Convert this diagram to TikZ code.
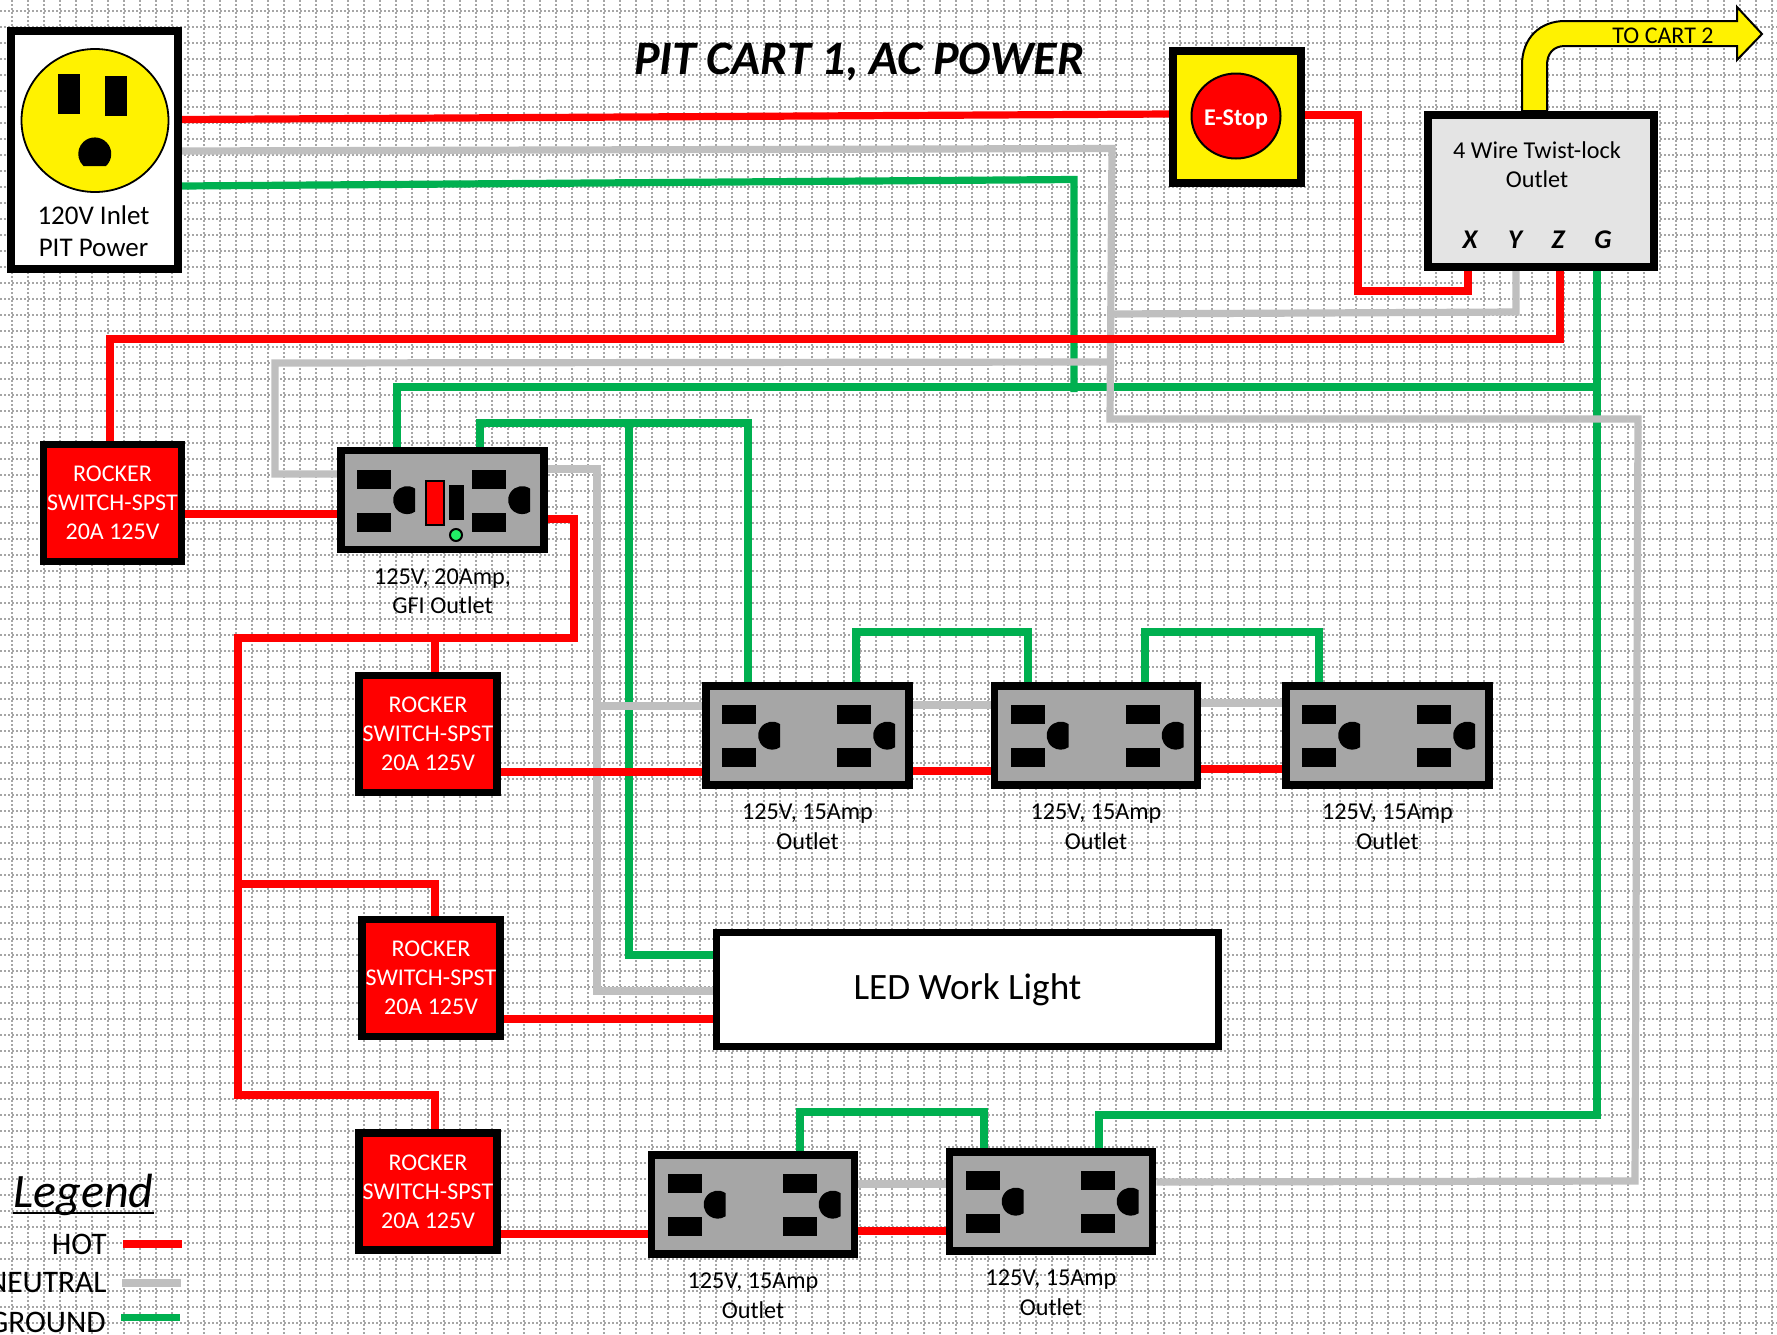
\documentclass[tikz,border=0pt]{standalone}
\usepackage{fontspec}
\setmainfont{Carlito}
\usetikzlibrary{positioning,backgrounds}
\definecolor{hotred}{HTML}{FF0000}
\definecolor{neutralgray}{HTML}{BFBFBF}
\definecolor{groundgreen}{HTML}{00B050}
\definecolor{platefill}{HTML}{A6A6A6}
\definecolor{gridgray}{HTML}{A6A6A6}
\definecolor{twistfill}{HTML}{E4E4E4}
\definecolor{leddot}{HTML}{22EE66}
\tikzset{
    gridline/.style={gridgray,line width=.9pt,dash pattern=on 1pt off 1pt},
    wire/.style={line width=3.6pt,line join=miter},
    hot/.style={wire,hotred},
    neutral/.style={wire,neutralgray},
    ground/.style={wire,groundgreen},
    box/.style={draw=black,line width=3.8pt,inner sep=0pt,align=center},
    rocker/.style={box,fill=hotred,text=white,minimum width=69pt,minimum height=58.5pt,font=\fontsize{12}{14.4}\selectfont},
    outlet/.style={box,fill=platefill,minimum width=101.5pt,minimum height=49.5pt},
    caption/.style={align=center,inner sep=0pt,font=\fontsize{12.1}{14.7}\selectfont},
    letter/.style={inner sep=0pt,font=\fontsize{13.5}{15}\selectfont\bfseries\itshape},
    legendtext/.style={inner sep=0pt,anchor=east,font=\fontsize{15.7}{18}\selectfont},
}
\newcommand{\slots}[2]{%
    \begin{scope}[shift={(#1.north west)}]
        \fill (#2+20,23) rectangle (#2+54,42);
        \fill (#2+20,66) rectangle (#2+54,85);
        \fill (#2+78,42) arc[start angle=-55,end angle=-305,radius=14] -- cycle;
    \end{scope}}
\newcommand{\faceplate}[1]{\slots{#1}{0}\slots{#1}{115}}
\begin{document}
\begin{tikzpicture}[x=.5pt,y=-.5pt]
    \useasboundingbox (0,0) rectangle (1777,1334);

    \node[box,fill=white,minimum width=83.5pt,minimum height=119pt] (inlet) at (94.5,150) {};
    \node[box,fill=yellow,minimum width=64pt,minimum height=66pt] (estop) at (1237,117) {};
    \node[box,fill=twistfill,minimum width=113pt,minimum height=76pt] (twist) at (1541,191) {};
    \node[rocker] (r_1) at (112.5,503) {ROCKER\\SWITCH-SPST\\20A 125V};
    \node[rocker] (r_2) at (428,734) {ROCKER\\SWITCH-SPST\\20A 125V};
    \node[rocker] (r_3) at (431,978) {ROCKER\\SWITCH-SPST\\20A 125V};
    \node[rocker] (r_4) at (428,1191.5) {ROCKER\\SWITCH-SPST\\20A 125V};
    \node[outlet] (gfi) at (442.5,500) {};
    \node[outlet] (o_1) at (807.5,735.5) {};
    \node[outlet] (o_2) at (1096,735.5) {};
    \node[outlet] (o_3) at (1387.5,735.5) {};
    \node[outlet] (o_4) at (753,1204.5) {};
    \node[outlet] (o_5) at (1051,1201.5) {};
    \node[box,fill=white,minimum width=251pt,minimum height=57pt,font=\fontsize{18.6}{20}\selectfont] (led) at (967.5,989.5) {\raisebox{-1.2pt}{LED Work Light}};

    \begin{scope}[on background layer]
    \fill[white] (0,0) rectangle (1777,1334);
    \foreach \gx in {12,28,...,1777} {\draw[gridline] (\gx,0) -- (\gx,1334);}
    \foreach \gy in {11,27,...,1334} {\draw[gridline] (0,\gy) -- (1777,\gy);}

    \draw[ground] (inlet.east |- 0,186) -- (1074,179.5) -- (1074,392);
    \draw[ground] (gfi.north -| 397,0) -- (397,387) -- (1597,387);
    \draw[ground] (twist.south -| 1597,0) -- (1597,1115) -- (1099,1115) -- (o_5.north -| 1099,0);
    \draw[ground] (gfi.north -| 480,0) -- (480,423) -- (748,423) -- (o_1.north -| 748,0);
    \draw[ground] (629,423) -- (629,955) -- (led.west |- 0,955);
    \draw[ground] (o_1.north -| 856,0) -- (856,632) -- (1028,632) -- (o_2.north -| 1028,0);
    \draw[ground] (o_2.north -| 1145,0) -- (1145,632) -- (1319,632) -- (o_3.north -| 1319,0);
    \draw[ground] (o_4.north -| 800,0) -- (800,1112) -- (984,1112) -- (o_5.north -| 984,0);

    \draw[neutral] (inlet.east |- 0,151) -- (1112,148.5) -- (1110,419) -- (1638,419) -- (1635,1181) -- (o_5.east |- 0,1182);
    \draw[neutral] (twist.south -| 1516,0) -- (1516,312) -- (1110,314);
    \draw[neutral] (gfi.west |- 0,474) -- (275,474) -- (275,363) -- (1110,362);
    \draw[neutral] (gfi.east |- 0,469) -- (597,469) -- (597,991) -- (led.west |- 0,991);
    \draw[neutral] (597,706) -- (o_1.west |- 0,706);
    \draw[neutral] (o_1.east |- 0,705) -- (o_2.west |- 0,705);
    \draw[neutral] (o_2.east |- 0,703) -- (o_3.west |- 0,703);
    \draw[neutral] (o_4.east |- 0,1184) -- (o_5.west |- 0,1184);

    \draw[hot] (inlet.east |- 0,119.5) -- (estop.west |- 0,114);
    \draw[hot] (estop.east |- 0,115) -- (1358,115) -- (1358,291) -- (1468,291) -- (twist.south -| 1468,0);
    \draw[hot] (twist.south -| 1560,0) -- (1560,339) -- (110,339) -- (r_1.north -| 110,0);
    \draw[hot] (r_1.east |- 0,514) -- (gfi.west |- 0,514);
    \draw[hot] (gfi.east |- 0,519) -- (574,519) -- (574,638) -- (238,638) -- (238,1095) -- (435,1095) -- (r_4.north -| 435,0);
    \draw[hot] (435,638) -- (r_2.north -| 435,0);
    \draw[hot] (238,884) -- (435,884) -- (r_3.north -| 435,0);
    \draw[hot] (r_2.east |- 0,772) -- (o_1.west |- 0,772);
    \draw[hot] (r_3.east |- 0,1019) -- (led.west |- 0,1019);
    \draw[hot] (r_4.east |- 0,1234) -- (o_4.west |- 0,1234);
    \draw[hot] (o_1.east |- 0,771) -- (o_2.west |- 0,771);
    \draw[hot] (o_2.east |- 0,769) -- (o_3.west |- 0,769);
    \draw[hot] (o_4.east |- 0,1231) -- (o_5.west |- 0,1231);
    \end{scope}

    \draw[black,line width=.9pt,fill=yellow] (95,120.5) circle [x radius=73.5,y radius=71.5];
    \fill (58,74) rectangle (80,114);
    \fill (105,76) rectangle (127,116);
    \fill (106,166) arc[start angle=47,end angle=-227,radius=16.5] -- cycle;
    \node[caption,font=\fontsize{13.5}{16}\selectfont] (inlet_txt) at (93.5,231) {120V Inlet\\PIT Power};

    \draw[black,line width=1pt,fill=hotred] (1236,116) circle [x radius=44.5,y radius=42.5];
    \node[inner sep=0pt,text=white,font=\fontsize{12}{14}\selectfont\bfseries] (estop_txt) at (1236,120) {E-Stop};

    \draw[black,line width=1pt,fill=yellow] (twist.north -| 1522,0) -- (1522,65) .. controls (1522,38) and (1540,21) .. (1565,21) -- (1737,21) -- (1737,7) -- (1762,34) -- (1737,60) -- (1737,46) -- (1565,46) .. controls (1553,46) and (1547,54) .. (1547,65) -- (twist.north -| 1547,0) -- cycle;
    \node[inner sep=0pt,font=\fontsize{12}{14}\selectfont] (cart_txt) at (1663,36) {TO CART 2};

    \node[caption] (twist_txt) at (1537,164.5) {4 Wire Twist-lock\\Outlet};
    \node[letter] (x_pin) at (1470,240) {X};
    \node[letter] (y_pin) at (1515,240) {Y};
    \node[letter] (z_pin) at (1558,240) {Z};
    \node[letter] (g_pin) at (1603,240) {G};

    \faceplate{gfi}
    \draw[black,line width=1pt,fill=hotred] (426,481) rectangle (444,525);
    \fill (449,485) rectangle (464,520);
    \draw[black,line width=1pt,fill=leddot] (456,535) circle [radius=6];
    \foreach \n in {o_1,o_2,o_3,o_4,o_5} {\faceplate{\n}}

    \node[caption] (gfi_txt) [below=7.5pt of gfi] {125V, 20Amp,\\GFI Outlet};
    \node[caption] (o_1_txt) [below=7.5pt of o_1] {125V, 15Amp\\Outlet};
    \node[caption] (o_2_txt) [below=7.5pt of o_2] {125V, 15Amp\\Outlet};
    \node[caption] (o_3_txt) [below=7.5pt of o_3] {125V, 15Amp\\Outlet};
    \node[caption] (o_4_txt) [below=7.5pt of o_4] {125V, 15Amp\\Outlet};
    \node[caption] (o_5_txt) [below=7.5pt of o_5] {125V, 15Amp\\Outlet};

    \node[inner sep=0pt,font=\fontsize{24}{28}\selectfont\bfseries\itshape] (title) at (859,62) {PIT CART 1, AC POWER};

    \node[inner sep=0pt,anchor=west,font=\fontsize{24}{28}\selectfont\itshape] (legend) at (13,1195) {Legend};
    \draw[black,line width=1.3pt] (legend.west |- 0,1213) -- (legend.east |- 0,1213);
    \node[legendtext] (k_hot) at (107,1244) {HOT};
    \node[legendtext] (k_neutral) at (107,1283) {NEUTRAL};
    \node[legendtext] (k_ground) at (106,1322) {GROUND};
    \draw[hot] ([xshift=8pt]k_hot.east) -- +(59,0);
    \draw[neutral] ([xshift=7.5pt]k_neutral.east) -- +(59,0);
    \draw[ground] ([xshift=7.5pt,yshift=2.2pt]k_ground.east) -- +(59,0);
\end{tikzpicture}
\end{document}
